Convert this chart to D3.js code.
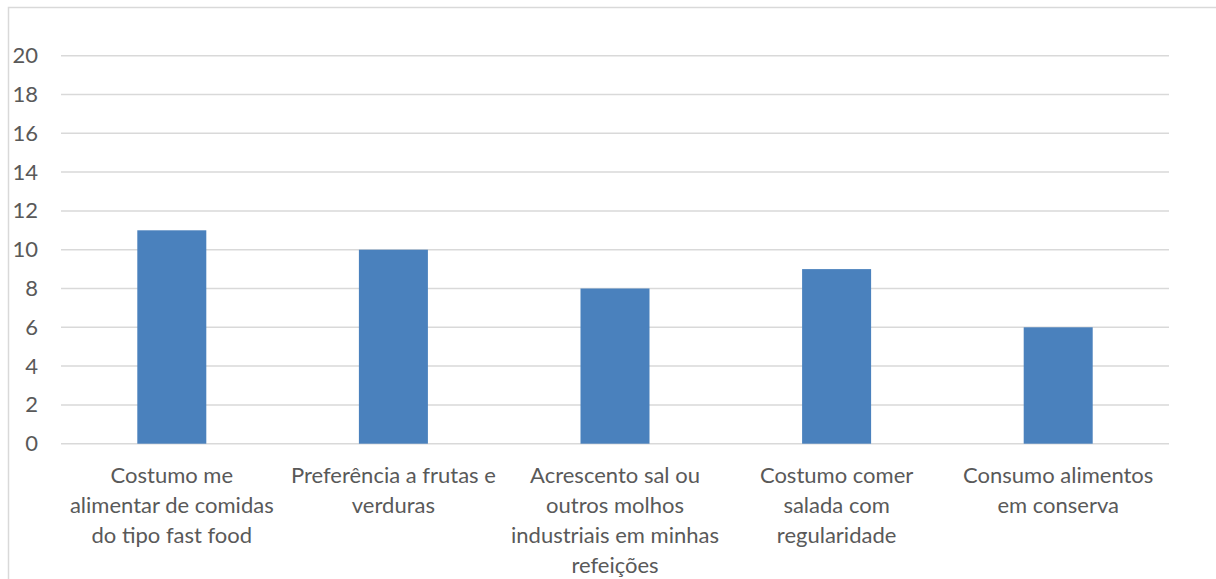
<!DOCTYPE html>
<html><head><meta charset="utf-8">
<script src="https://cdn.jsdelivr.net/npm/d3@7"></script>
<style>body{margin:0;background:#fff;}svg{display:block;}</style>
</head><body>
<svg id="c" width="1216" height="579"></svg>
<script>
const categories = [
  "Costumo me\nalimentar de comidas\ndo tipo fast food",
  "Preferência a frutas e\nverduras",
  "Acrescento sal ou\noutros molhos\nindustriais em minhas\nrefeições",
  "Costumo comer\nsalada com\nregularidade",
  "Consumo alimentos\nem conserva"
];
const values = [11, 10, 8, 9, 6];
const yTicks = [0, 2, 4, 6, 8, 10, 12, 14, 16, 18, 20];

const svg = d3.select("#c");
const font = "Lato, 'Open Sans', sans-serif";
// chart border
svg.append("rect").attr("x", 8.5).attr("y", 7.5).attr("width", 1240).attr("height", 600)
  .attr("fill", "none").attr("stroke", "#d9d9d9").attr("stroke-width", 1.5);

const x = d3.scaleBand().domain(categories).range([61, 1169]).paddingInner(0).paddingOuter(0);
const y = d3.scaleLinear().domain([0, 20]).range([443.7, 55.7]);

const grid = svg.append("g");
grid.selectAll("line").data(yTicks).join("line")
  .attr("x1", 61).attr("x2", 1169)
  .attr("y1", d => y(d)).attr("y2", d => y(d))
  .attr("stroke", "#d9d9d9").attr("stroke-width", 1.5);

const yAxis = svg.append("g").attr("transform", "translate(38,0)")
  .call(d3.axisLeft(y).tickValues(yTicks).tickSize(0).tickPadding(0));
yAxis.select(".domain").remove();
yAxis.selectAll("text").attr("font-family", font).attr("font-size", 22).attr("fill", "#595959");

const bw = 69;
svg.append("g").selectAll("rect").data(values).join("rect")
  .attr("x", (d, i) => x(categories[i]) + x.bandwidth() / 2 - bw / 2)
  .attr("width", bw)
  .attr("y", d => y(d))
  .attr("height", d => y(0) - y(d))
  .attr("fill", "#4a81bd");

const labels = svg.append("g");
categories.forEach((c, i) => {
  const t = labels.append("text")
    .attr("x", x(c) + x.bandwidth() / 2)
    .attr("y", 483)
    .attr("text-anchor", "middle")
    .attr("font-family", font).attr("font-size", 22).attr("fill", "#595959");
  c.split("\n").forEach((line, k) => {
    t.append("tspan").attr("x", x(c) + x.bandwidth() / 2).attr("y", 483 + k * 30).text(line);
  });
});
</script>
</body></html>
